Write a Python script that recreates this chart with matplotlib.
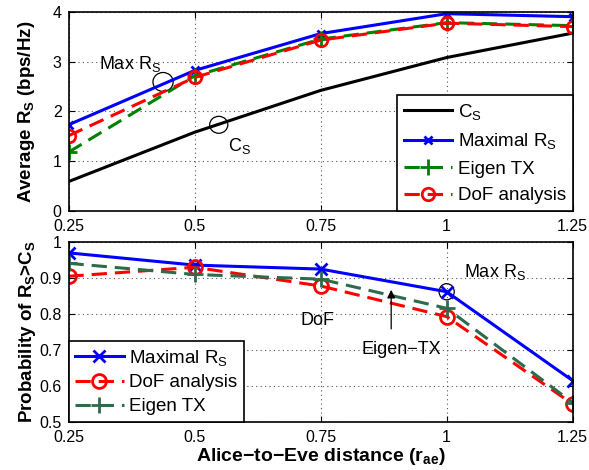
import matplotlib
matplotlib.use("Agg")
import matplotlib.pyplot as plt
from matplotlib.patches import Ellipse

plt.rcParams['font.family'] = ['Liberation Sans', 'DejaVu Sans']
plt.rcParams['mathtext.fontset'] = 'custom'
plt.rcParams['mathtext.rm'] = 'Liberation Sans'
plt.rcParams['mathtext.it'] = 'Liberation Sans'
plt.rcParams['mathtext.bf'] = 'Liberation Sans:bold'
plt.rcParams['mathtext.default'] = 'regular'

# ---- data ----
distance = [0.25, 0.5, 0.75, 1.0, 1.25]
xtick_labels = ['0.25', '0.5', '0.75', '1', '1.25']

cs_rate = [0.59, 1.58, 2.42, 3.08, 3.57]
max_rate = [1.73, 2.82, 3.56, 3.96, 3.90]
eigen_rate = [1.18, 2.71, 3.45, 3.78, 3.72]
dof_rate = [1.51, 2.68, 3.43, 3.77, 3.70]

max_prob = [0.969, 0.935, 0.924, 0.861, 0.614]
dof_prob = [0.904, 0.929, 0.877, 0.792, 0.549]
eigen_prob = [0.940, 0.909, 0.896, 0.815, 0.553]

W, H = 589, 470
fig = plt.figure(figsize=(W / 100, H / 100), dpi=100)

def ax_rect(l, t, r, b):
    return [l / W, 1 - b / H, (r - l) / W, (b - t) / H]

ax1 = fig.add_axes(ax_rect(68.5, 11.7, 572.7, 211))
ax2 = fig.add_axes(ax_rect(68.5, 241.7, 572.7, 421.7))

dash = (0, (5, 2.6))
lw = 2.2

# ---- top ----
ax1.plot(distance, cs_rate, color='black', lw=lw, label=r'$C_S$')
ax1.plot(distance, max_rate, color='#0000ff', lw=lw, marker='x', ms=6, mew=2,
         label=r'Maximal $R_S$')
ax1.plot(distance, eigen_rate, color='#008000', lw=lw, ls=dash, marker='+', ms=12, mew=2,
         label='Eigen TX')
ax1.plot(distance, dof_rate, color='#ff0000', lw=lw, ls=dash, marker='o', ms=9, mew=2,
         mfc='none', label='DoF analysis')
ax1.set_ylim(0, 4)
ax1.set_yticks([0, 1, 2, 3, 4])
ax1.set_ylabel(r'Average $\mathbf{R_S}$ (bps/Hz)', fontsize=13.5, fontweight='bold')
leg1 = ax1.legend(loc='lower right', fontsize=13.5, frameon=True, fancybox=False,
                  edgecolor='black', framealpha=1, borderpad=0.35, labelspacing=0.5,
                  handlelength=2.6, handletextpad=0.3, borderaxespad=0)
leg1.get_frame().set_linewidth(1.2)

# annotations top
ax1.add_patch(Ellipse((0.4375, 2.59), 0.04, 0.38, fill=False, ec='black', lw=0.9))
ax1.text(0.31, 2.95, r'Max $R_S$', fontsize=13, ha='left', va='center')
ax1.add_patch(Ellipse((0.548, 1.73), 0.036, 0.34, fill=False, ec='black', lw=0.9))
ax1.text(0.566, 1.3, r'$C_S$', fontsize=13, ha='left', va='center')

# ---- bottom ----
ax2.plot(distance, max_prob, color='#0000ff', lw=lw, marker='x', ms=9, mew=2,
         label=r'Maximal $R_S$')
ax2.plot(distance, dof_prob, color='#ff0000', lw=lw, ls=dash, marker='o', ms=10, mew=2,
         mfc='none', label='DoF analysis')
ax2.plot(distance, eigen_prob, color='#2e6b4b', lw=lw, ls=dash, marker='+', ms=12, mew=2,
         label='Eigen TX')
ax2.set_ylim(0.5, 1.0)
ax2.set_yticks([0.5, 0.6, 0.7, 0.8, 0.9, 1.0])
ax2.set_yticklabels(['0.5', '0.6', '0.7', '0.8', '0.9', '1'])
ax2.set_ylabel(r'Probability of $\mathbf{R_S}$>$\mathbf{C_S}$', fontsize=13.5,
               fontweight='bold')
ax2.set_xlabel(r'Alice−to−Eve distance ($\mathbf{r_{ae}}$)', fontsize=14,
               fontweight='bold', labelpad=1)
leg2 = ax2.legend(loc='lower left', fontsize=13.5, frameon=True, fancybox=False,
                  edgecolor='black', framealpha=1, borderpad=0.35, labelspacing=0.35,
                  handlelength=2.6, handletextpad=0.3, borderaxespad=0)
leg2.get_frame().set_linewidth(1.2)

ax2.add_patch(Ellipse((1.0, 0.861), 0.03, 0.045, fill=False, ec='black', lw=0.9))
ax2.text(1.035, 0.915, r'Max $R_S$', fontsize=13, ha='left', va='center')
ax2.text(0.71, 0.782, 'DoF', fontsize=13, ha='left', va='center')
ax2.annotate('', xy=(0.89, 0.874), xytext=(0.89, 0.75),
             arrowprops=dict(arrowstyle='-|>', color='black', lw=0.9,
                             mutation_scale=12))
ax2.text(0.91, 0.7, 'Eigen−TX', fontsize=13, ha='center', va='center')

for ax in (ax1, ax2):
    ax.set_xlim(0.25, 1.25)
    ax.set_xticks(distance)
    ax.set_xticklabels(xtick_labels)
    ax.grid(True, ls=(0, (1, 3)), color='#555555', lw=0.8)
    ax.tick_params(direction='in', top=True, right=True, labelsize=11.5, length=4)
    ax.tick_params(axis='x', pad=6)
    ax.tick_params(axis='y', pad=5)
    for s in ax.spines.values():
        s.set_linewidth(1.2)

ax1.yaxis.set_label_coords(-0.062, 0.5)
ax2.yaxis.set_label_coords(-0.06, 0.5)

fig.savefig('out.png', dpi=100)
